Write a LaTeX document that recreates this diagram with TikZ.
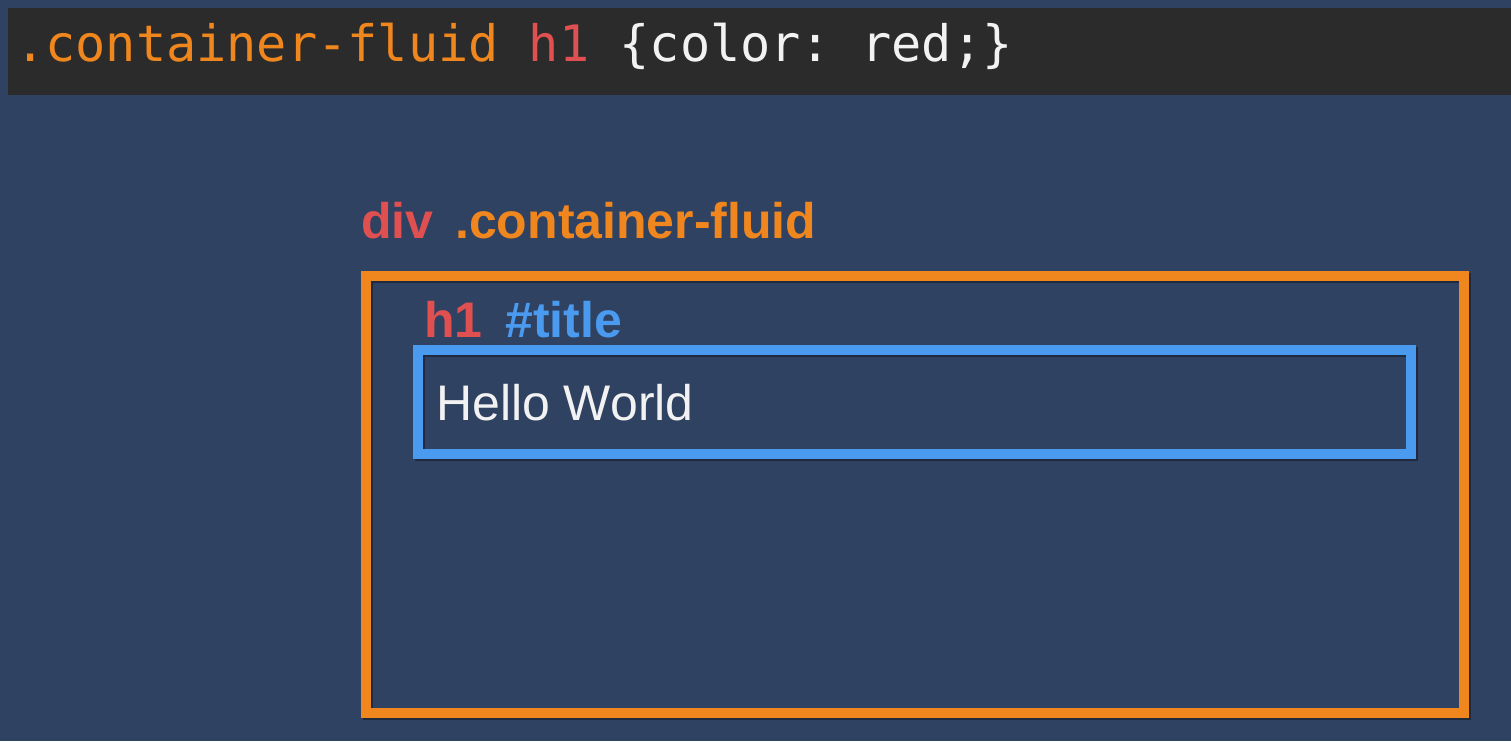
\documentclass[tikz,border=0pt]{standalone}
\usepackage{fontspec}
\usetikzlibrary{calc}
\setmainfont{Liberation Sans}
\newfontfamily\codefont{DejaVu Sans Mono}
\definecolor{bgblue}{HTML}{304262}
\definecolor{bardark}{HTML}{2B2B2B}
\definecolor{codeorange}{HTML}{F0861E}
\definecolor{codered}{HTML}{E05050}
\definecolor{codeblue}{HTML}{4A9BF0}
\definecolor{codewhite}{HTML}{F2F2F2}
\tikzset{
  txt/.style={inner sep=0pt, anchor=base west},
  code/.style={txt, font=\codefont\frenchspacing\fontsize{50.2}{60}\selectfont},
  label/.style={txt, font=\bfseries\fontsize{50}{60}\selectfont},
  boxframe/.style={draw, line width=10pt, inner sep=0pt, rectangle},
  shadowed/.style={preaction={draw=black, opacity=0.35, line width=10pt, transform canvas={shift={(1.5pt,-1.5pt)}}}},
}
\begin{document}
\begin{tikzpicture}[x=1pt, y=-1pt]
\useasboundingbox (0,0) rectangle (1511,741);
\fill[bgblue] (0,0) rectangle (1511,741);
% code bar
\node[fill=bardark, inner sep=0pt, minimum width=1503pt, minimum height=87pt, anchor=north west] (bar) at (8,8) {};
\node[code, text=codeorange] (css) at (15,62) {.container-fluid \textcolor{codered}{h1} \textcolor{codewhite}{\{color: red;\}}};
% div label
\node[label, text=codered] (divlbl) at (361,238) {div};
\node[label, text=codeorange] (divcls) at (455,238) {.container-fluid};
% outer box
\node[boxframe, shadowed, draw=codeorange, minimum width=1098pt, minimum height=437pt] (outer) at (915,494.5) {};
% h1 label
\node[label, text=codered] (h1lbl) at (424,337) {h1};
\node[label, text=codeblue] (h1id) at (505,337) {\#title};
% inner box
\node[boxframe, shadowed, draw=codeblue, minimum width=993pt, minimum height=104pt] (inner) at (914.5,402) {};
\node[txt, text=codewhite, font=\fontsize{50}{60}\selectfont] (hello) at (436,420) {Hello World};
\end{tikzpicture}
\end{document}
